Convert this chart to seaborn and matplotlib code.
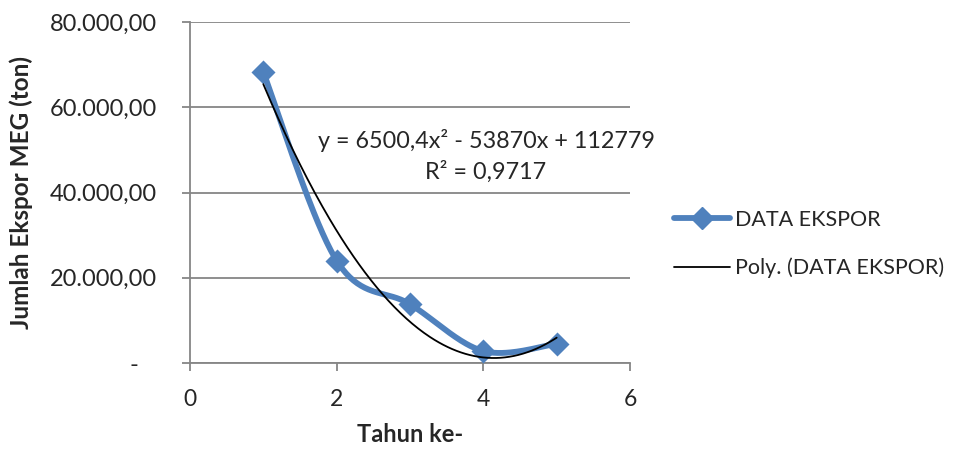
import numpy as np
import pandas as pd
import matplotlib
matplotlib.use("Agg")
import matplotlib.pyplot as plt
import seaborn as sns
from matplotlib.lines import Line2D

# ---- data ----
tahun = [1, 2, 3, 4, 5]
ekspor = [68200, 24000, 13800, 2800, 4500]
poly_coef = [6500.4, -53870, 112779]   # trendline from the chart label
eq_text = "y = 6500,4x² - 53870x + 112779"
r2_text = "R² = 0,9717"
x_ticks = [0, 2, 4, 6]
y_ticks = [0, 20000, 40000, 60000, 80000]
y_tick_labels = ["-   ", "20.000,00", "40.000,00", "60.000,00", "80.000,00"]
series_name = "DATA EKSPOR"
trend_name = "Poly. (DATA EKSPOR)"

sns.set_style("white")
plt.rcParams["font.family"] = ["Lato", "DejaVu Sans"]

BLUE = "#4F81BD"
GRID = "#868686"

fig = plt.figure(figsize=(9.61, 4.5), dpi=100)
ax = fig.add_axes([190/961, 1-363/450, 440/961, 341/450])
ax.set_xlim(0, 6)
ax.set_ylim(0, 80000)

# Excel-style smoothed line (Catmull-Rom through data, in axis-normalised space)
px = np.array(tahun, float) / 6 * 440
py = np.array(ekspor, float) / 80000 * 341
P = np.column_stack([px, py])
n = len(P)
seg = []
for i in range(n - 1):
    p0 = P[max(i - 1, 0)]
    p1 = P[i]
    p2 = P[i + 1]
    p3 = P[min(i + 2, n - 1)]
    c1 = p1 + (p2 - p0) / 6
    c2 = p2 - (p3 - p1) / 6
    t = np.linspace(0, 1, 40)[:, None]
    b = (1-t)**3*p1 + 3*(1-t)**2*t*c1 + 3*(1-t)*t**2*c2 + t**3*p2
    seg.append(b if i == 0 else b[1:])
S = np.vstack(seg)
smooth = pd.DataFrame({"x": S[:, 0] / 440 * 6, "y": S[:, 1] / 341 * 80000})

sns.lineplot(data=smooth, x="x", y="y", ax=ax, color=BLUE, lw=4.2,
             sort=False, estimator=None, zorder=3)
df = pd.DataFrame({"x": tahun, "y": ekspor})
sns.scatterplot(data=df, x="x", y="y", ax=ax, marker="D", s=150,
                color=BLUE, edgecolor=BLUE, linewidth=0, zorder=4)

# polynomial trend
xt = np.linspace(min(tahun), max(tahun), 200)
trend = pd.DataFrame({"x": xt, "y": np.polyval(poly_coef, xt)})
sns.lineplot(data=trend, x="x", y="y", ax=ax, color="black", lw=1.3,
             sort=False, estimator=None, zorder=5)

ax.text(486/961, 1-140/450, eq_text, transform=fig.transFigure,
        ha="center", va="center", fontsize=16.8)
ax.text(486/961, 1-172/450, r2_text, transform=fig.transFigure,
        ha="center", va="center", fontsize=16.8)

# axes styling
ax.set_xticks(x_ticks)
ax.set_xticklabels([str(v) for v in x_ticks], fontsize=16.5)
ax.set_yticks(y_ticks)
ax.set_yticklabels(y_tick_labels, fontsize=17)
ax.yaxis.grid(True, color=GRID, lw=1.3)
ax.xaxis.grid(False)
for s in ["top", "right"]:
    ax.spines[s].set_visible(False)
for s in ["left", "bottom"]:
    ax.spines[s].set_color(GRID)
    ax.spines[s].set_linewidth(1.3)
ax.tick_params(axis="both", direction="out", length=6, width=1.3,
               color=GRID, left=True, bottom=True)
ax.tick_params(axis="y", pad=18)
ax.tick_params(axis="x", pad=13)
ax.set_xlabel("Tahun ke-", fontsize=17, fontweight="bold", labelpad=9)
ax.set_ylabel("Jumlah Ekspor MEG (ton)", fontsize=17.5, fontweight="bold", labelpad=12)

handles = [Line2D([], [], color=BLUE, lw=4.2, marker="D", ms=11),
           Line2D([], [], color="black", lw=1.3)]
fig.legend(handles, [series_name, trend_name], loc="center left",
           bbox_to_anchor=(674/961, 1-244/450), frameon=False, fontsize=15.5,
           handlelength=2.6, handletextpad=0.25, labelspacing=1.3,
           borderaxespad=0, borderpad=0)

fig.savefig("out.png", dpi=100)
